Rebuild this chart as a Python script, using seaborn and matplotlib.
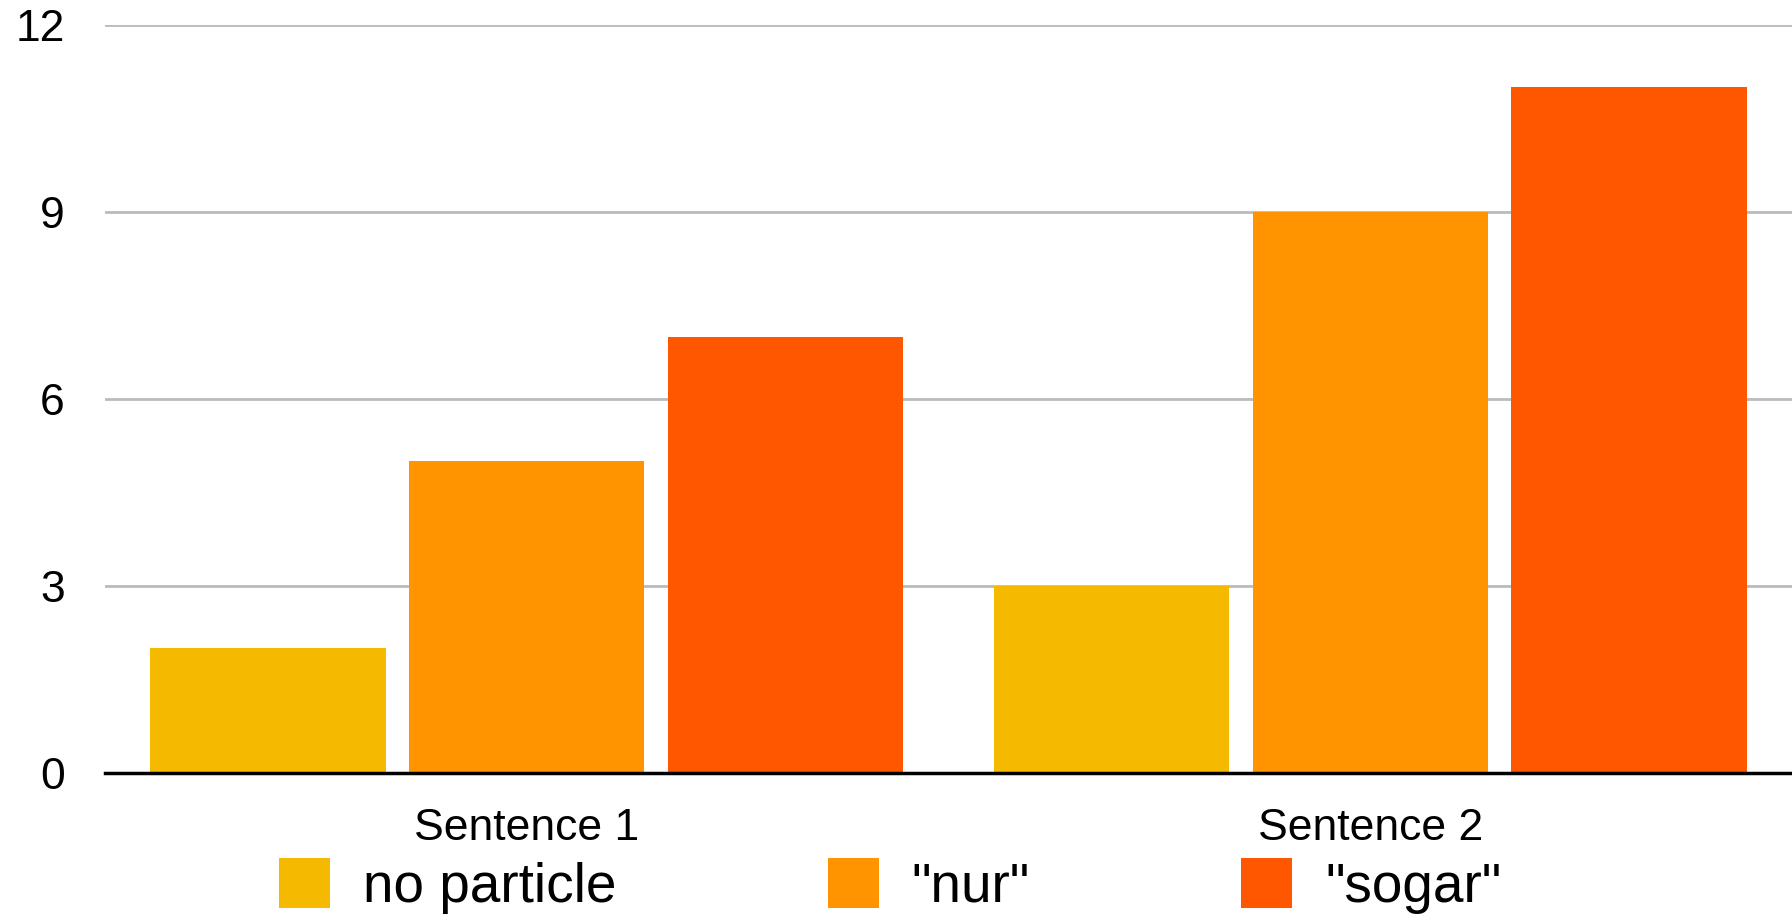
import matplotlib
matplotlib.use("Agg")
import matplotlib.pyplot as plt
import seaborn as sns
import pandas as pd

sentences = ["Sentence 1", "Sentence 2"]
particles = ["no particle", "\"nur\"", "\"sogar\""]
counts = {
    "no particle": [2, 3],
    "\"nur\"": [5, 9],
    "\"sogar\"": [7, 11],
}
colors = ["#F5BA00", "#FF9400", "#FF5600"]

rows = []
for p in particles:
    for s, v in zip(sentences, counts[p]):
        rows.append({"sentence": s, "particle": p, "count": v})
df = pd.DataFrame(rows)

sns.set_style("white")
plt.rcParams["font.family"] = ["Liberation Sans", "DejaVu Sans"]
plt.rcParams["text.color"] = "black"
plt.rcParams["xtick.color"] = "black"
plt.rcParams["ytick.color"] = "black"

fig = plt.figure(figsize=(17.92, 9.14), dpi=100)
ax = fig.add_axes([105 / 1792, 1 - 773 / 914, 1 - 105 / 1792, (773 - 25) / 914])

sns.barplot(df, x="sentence", y="count", hue="particle", palette=colors,
            width=0.92, gap=0.09, saturation=1, linewidth=0, ax=ax)

ax.set_xlim(-0.5, 1.5)
ax.set_ylim(0, 12)
ax.set_yticks([0, 3, 6, 9, 12])
ax.yaxis.grid(True, color="#BBBBBB", linewidth=2)
ax.set_axisbelow(True)
for side in ["top", "right", "left"]:
    ax.spines[side].set_visible(False)
ax.spines["bottom"].set_color("black")
ax.spines["bottom"].set_linewidth(2.5)
ax.spines["bottom"].set_zorder(5)
ax.tick_params(axis="y", length=0, pad=29, labelsize=32, labelcolor="black")
ax.tick_params(axis="x", length=0, pad=25, labelsize=32, labelcolor="black")
ax.set_xlabel("")
ax.set_ylabel("")

sns.move_legend(ax, "center left", bbox_to_anchor=(279 / 1792, 0.031),
                bbox_transform=fig.transFigure, ncol=3, frameon=False,
                title=None, fontsize=39.5, handlelength=0.93, handleheight=1.05,
                handletextpad=0.6, columnspacing=3.85, borderpad=0,
                borderaxespad=0)
for t in ax.get_legend().get_texts():
    t.set_color("black")

fig.savefig("out.png", dpi=100)
